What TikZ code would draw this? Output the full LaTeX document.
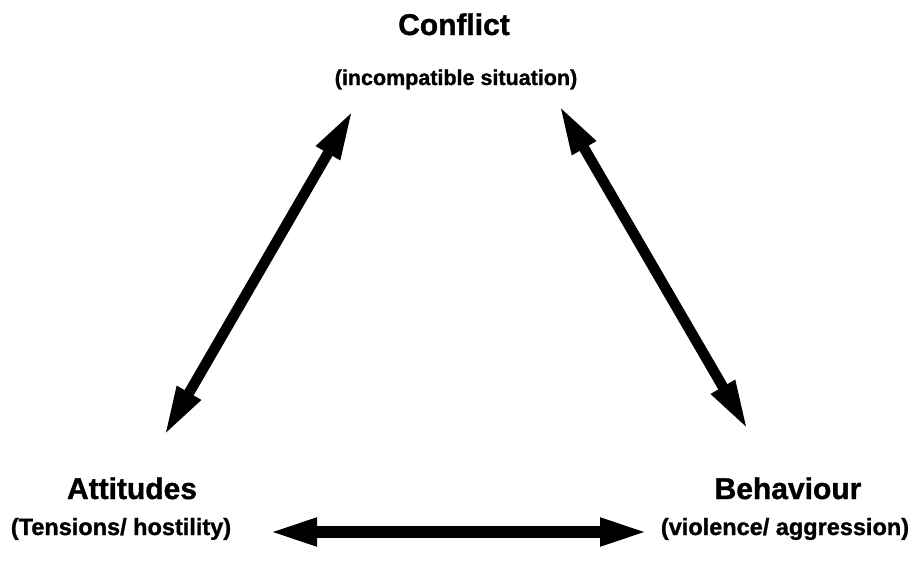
\documentclass[tikz,border=0pt]{standalone}
\usepackage{fontspec}
\setmainfont{Liberation Sans}[BoldFeatures={FakeBold=1.2}]
\usetikzlibrary{arrows.meta}
\tikzset{
  title/.style={inner sep=0pt, anchor=base, font=\fontsize{30}{32}\selectfont\bfseries},
  sub/.style={inner sep=0pt, anchor=base, font=\fontsize{23.5}{26}\selectfont\bfseries},
  bigarrow/.style={line width=11pt, black, {Triangle[length=50pt,width=25pt]}-{Triangle[length=50pt,width=25pt]}}
}
\begin{document}
\begin{tikzpicture}[x=1pt,y=-1pt]
\useasboundingbox (0,0) rectangle (919,562);
\node[title] (conflict) at (454,35) {Conflict};
\node[sub, font=\fontsize{21.5}{24}\selectfont\bfseries] (conflictsub) at (456,85) {(incompatible situation)};
\node[title] (attitudes) at (132,499) {Attitudes};
\node[sub] (attitudessub) at (121,535) {(Tensions/ hostility)};
\node[title] (behaviour) at (788,499) {Behaviour};
\node[sub] (behavioursub) at (785,535) {(violence/ aggression)};
\coordinate (lt) at (353,110);
\coordinate (lb) at (164,436);
\coordinate (rt) at (559,105);
\coordinate (rb) at (748,430);
\coordinate (hl) at (267,532);
\coordinate (hr) at (650,532);
\draw[bigarrow, line width=10.5pt] (lb) -- (lt);
\draw[bigarrow, line width=10.5pt] (rt) -- (rb);
\draw[bigarrow, line width=12pt] (hl) -- (hr);
\end{tikzpicture}
\end{document}
